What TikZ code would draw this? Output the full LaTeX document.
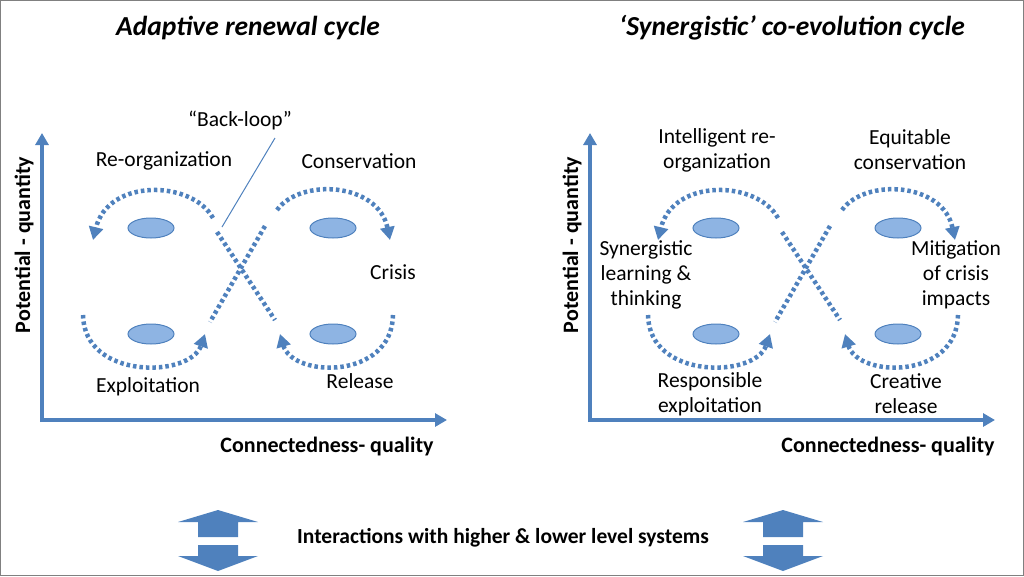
\documentclass[tikz,border=0pt]{standalone}
\usepackage{fontspec}
\setmainfont{Carlito}
\usetikzlibrary{arrows.meta,shapes.geometric}
\definecolor{ax}{RGB}{79,129,189}
\definecolor{ef}{RGB}{142,180,227}
\begin{document}
\begin{tikzpicture}[x=1pt,y=-1pt,
  axis/.style={ax,line width=4pt,-{Triangle[width=13pt,length=12pt]}},
  dot/.style={ax,line width=4.5pt,dash pattern=on 3.5pt off 3pt},
  dotarr/.style={dot,-{Triangle[width=14pt,length=13pt]}},
  ell/.style={ellipse,draw=ax,fill=ef,line width=1pt,minimum width=46pt,minimum height=20pt,inner sep=0pt},
  lab/.style={font=\fontsize{21.5}{25}\selectfont,align=center},
  alab/.style={font=\bfseries\fontsize{22}{26}\selectfont},
  ttl/.style={font=\bfseries\itshape\fontsize{27.5}{32}\selectfont}]
\useasboundingbox (0,0) rectangle (1024,576);
\draw[gray,line width=1pt] (0.5,0.5) rectangle (1023.5,575.5);
\node[ttl] (t1) at (248,28) {Adaptive renewal cycle};
\node[ttl] (t2) at (792,28) {‘Synergistic’ co-evolution cycle};
\foreach \dx/\ax in {0/42,565/590}{
  \draw[axis] (\ax,422) -- (\ax,133);
  \draw[axis] (\ax-2,420) -- (\ax+405,420);
  \begin{scope}[xshift=\dx]
  \node[ell] at (151,228) {};
  \node[ell] at (333,228) {};
  \node[ell] at (151,334) {};
  \node[ell] at (333,334) {};
  \draw[dotarr] (213,218) .. controls (192,180) and (108,178) .. (93,240);
  \draw[dotarr] (277,210) .. controls (300,178) and (378,182) .. (390,240);
  \draw[dotarr] (83,315) .. controls (84,380) and (190,378) .. (205,334);
  \draw[dotarr] (393,315) .. controls (392,380) and (293,378) .. (280,334);
  \draw[dot] (265,226) -- (210,322);
  \draw[dot] (217,232) -- (275,320);
  \end{scope}
}
\node[alab] (xl1) at (327,447) {Connectedness- quality};
\node[alab] (xl2) at (888,447) {Connectedness- quality};
\node[alab,rotate=90] (yl1) at (24,245) {Potential - quantity};
\node[alab,rotate=90] (yl2) at (572,245) {Potential - quantity};
% left labels
\node[lab] (bl) at (240,120) {“Back-loop”};
\draw[ax,line width=1pt] (275,138) -- (222,227);
\node[lab] at (164,161) {Re-organization};
\node[lab] at (359,161) {Conservation};
\node[lab] at (393,272) {Crisis};
\node[lab] at (148,387) {Exploitation};
\node[lab] at (360,381) {Release};
% right labels
\node[lab] at (717,150) {Intelligent re-\\organization};
\node[lab] at (910,150) {Equitable\\conservation};
\node[lab] at (646,275) {Synergistic\\learning \&\\thinking};
\node[lab] at (956,275) {Mitigation\\of crisis\\impacts};
\node[lab] at (710,394) {Responsible\\exploitation};
\node[lab] at (906,394) {Creative\\release};
% bottom
\foreach \c in {218,783}{
  \fill[ax] (\c-40,522) -- (\c,510) -- (\c+40,522) -- (\c+20,522) -- (\c+20,537) -- (\c-20,537) -- (\c-20,522) -- cycle;
  \fill[ax] (\c-40,556) -- (\c,571) -- (\c+40,556) -- (\c+20,556) -- (\c+20,545) -- (\c-20,545) -- (\c-20,556) -- cycle;
}
\node[font=\bfseries\fontsize{21.5}{25}\selectfont] at (503,538) {Interactions with higher \& lower level systems};
\end{tikzpicture}
\end{document}
